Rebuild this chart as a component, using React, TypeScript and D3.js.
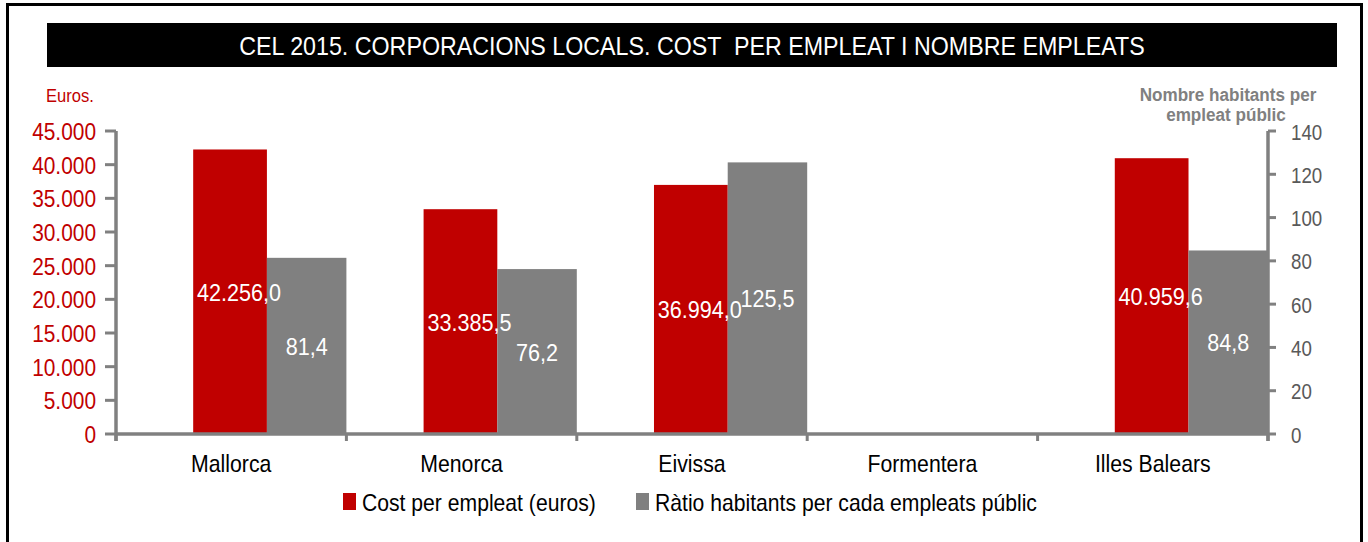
import React from "react";
import * as d3 from "d3";

const categories = ["Mallorca", "Menorca", "Eivissa", "Formentera", "Illes Balears"];
const costPerEmpleat: (number | null)[] = [42256.0, 33385.5, 36994.0, null, 40959.6];
const ratioHabitants: (number | null)[] = [81.4, 76.2, 125.5, null, 84.8];
const leftDomain = [0, 45000];
const rightDomain = [0, 140];
const title = "CEL 2015. CORPORACIONS LOCALS. COST  PER EMPLEAT I NOMBRE EMPLEATS";
const leftAxisTitle = "Euros.";
const rightAxisTitle = ["Nombre habitants per", "empleat públic"];
const seriesNames = ["Cost per empleat (euros)", "Ràtio habitants per cada empleats públic"];

const RED = "#C00000";
const GRAY = "#808080";
const FONT = "'Liberation Sans', Arial, sans-serif";

const locale = d3.formatLocale({ decimal: ",", thousands: ".", grouping: [3], currency: ["", " €"] });
const fmtAxis = locale.format(",.0f");
const fmtLabel = locale.format(",.1f");

function T({ x, y, s = 0.88, children, ...rest }: any) {
  return (
    <text transform={`translate(${x},${y}) scale(${s},1)`} {...rest}>
      {children}
    </text>
  );
}

export default function App() {
  const x0 = 116, x1 = 1268, yBase = 434, yTop = 131;
  const x = d3.scaleBand<string>().domain(categories).range([x0, x1]).padding(0);
  const yL = d3.scaleLinear().domain(leftDomain).range([yBase, yTop]);
  const yR = d3.scaleLinear().domain(rightDomain).range([yBase, yTop]);
  const bw = x.bandwidth();
  const leftTicks = yL.ticks(9);
  const rightTicks = yR.ticks(7);
  const boundaries = [...categories.map((c) => x(c)!), x1];

  return (
    <svg width={1368} height={542} style={{ position: "absolute", left: 0, top: 0, background: "#fff" }} fontFamily={FONT}>
      <rect x={0} y={0} width={1368} height={542} fill="#fff" />
      <rect x={7.5} y={4.5} width={1354} height={560} fill="none" stroke="#000" strokeWidth={3} />
      <rect x={47} y={23} width={1290} height={44} fill="#000" />
      <T x={692} y={55} s={0.894} fill="#fff" fontSize={26} textAnchor="middle" style={{ whiteSpace: "pre" }}>
        {title}
      </T>

      {/* bars */}
      {categories.map((c, i) => {
        const bx = x(c)!;
        const v1 = costPerEmpleat[i];
        const v2 = ratioHabitants[i];
        const rx = bx + bw * 0.335, rw = bw * 0.32;
        const gx = bx + bw * 0.655, gw = bw * 0.345;
        return (
          <g key={c}>
            {v1 != null && (
              <rect x={rx} y={yL(v1)} width={rw} height={yBase - yL(v1)} fill={RED} />
            )}
            {v2 != null && (
              <rect x={gx} y={yR(v2)} width={gw} height={yBase - yR(v2)} fill={GRAY} />
            )}
          </g>
        );
      })}
      {categories.map((c, i) => {
        const bx = x(c)!;
        const v1 = costPerEmpleat[i];
        const v2 = ratioHabitants[i];
        const rx = bx + bw * 0.335, rw = bw * 0.32;
        const gx = bx + bw * 0.655, gw = bw * 0.345;
        return (
          <g key={c + "l"} fill="#fff" fontSize={24} textAnchor="middle">
            {v1 != null && (
              <T x={rx + rw / 2 + 9} y={(yL(v1) + yBase) / 2 + 9} s={0.9}>{fmtLabel(v1)}</T>
            )}
            {v2 != null && (
              <T x={gx + gw / 2} y={(yR(v2) + yBase) / 2 + 9} s={0.9}>{fmtLabel(v2)}</T>
            )}
          </g>
        );
      })}

      {/* left axis */}
      <line x1={x0} x2={x0} y1={yTop} y2={yBase + 7} stroke={GRAY} strokeWidth={3.5} />
      {leftTicks.map((t) => (
        <g key={"l" + t}>
          <line x1={105} x2={x0} y1={yL(t)} y2={yL(t)} stroke={GRAY} strokeWidth={3} />
          <T x={96} y={yL(t) + 9} s={0.87} fill={RED} fontSize={24} textAnchor="end">{fmtAxis(t)}</T>
        </g>
      ))}
      <T x={46} y={102} s={0.87} fill={RED} fontSize={19}>{leftAxisTitle}</T>

      {/* right axis */}
      <line x1={x1} x2={x1} y1={yTop} y2={yBase + 7} stroke={GRAY} strokeWidth={3.5} />
      {rightTicks.map((t) => (
        <g key={"r" + t}>
          <line x1={x1} x2={1276} y1={yR(t)} y2={yR(t)} stroke={GRAY} strokeWidth={3} />
          <T x={1291} y={yR(t) + 8.5} s={0.85} fill="#595959" fontSize={22}>{t}</T>
        </g>
      ))}
      <g fill={GRAY} fontSize={19} fontWeight="bold" textAnchor="middle">
        <T x={1228} y={101} s={0.9}>{rightAxisTitle[0]}</T>
        <T x={1226} y={121} s={0.9}>{rightAxisTitle[1]}</T>
      </g>

      {/* x axis */}
      <line x1={x0} x2={x1} y1={yBase} y2={yBase} stroke={GRAY} strokeWidth={3.5} />
      {boundaries.map((b, i) => (
        <line key={"b" + i} x1={b} x2={b} y1={yBase} y2={yBase + 7} stroke={GRAY} strokeWidth={3} />
      ))}
      {categories.map((c) => (
        <T key={"c" + c} x={x(c)! + bw / 2} y={472} s={0.886} fontSize={24} textAnchor="middle" fill="#000">{c}</T>
      ))}

      {/* legend */}
      <rect x={343} y={493} width={13} height={17} fill={RED} />
      <T x={362} y={511} s={0.92} fontSize={23} fill="#000">{seriesNames[0]}</T>
      <rect x={636} y={493} width={13} height={17} fill={GRAY} />
      <T x={655} y={511} s={0.92} fontSize={23} fill="#000">{seriesNames[1]}</T>
    </svg>
  );
}
